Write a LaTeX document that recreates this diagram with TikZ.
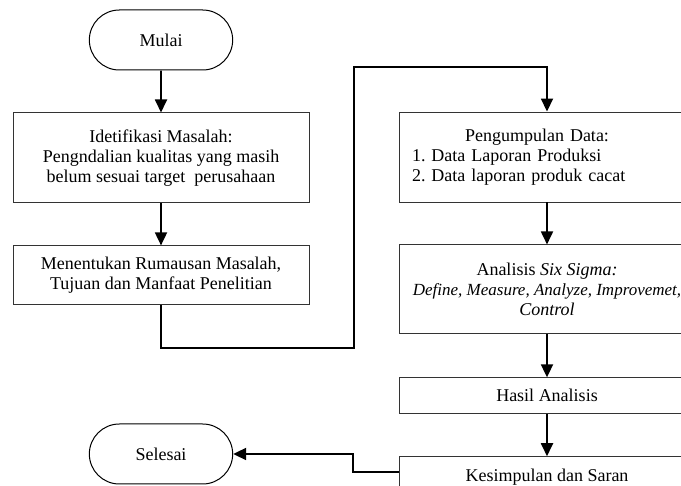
\documentclass[tikz,border=0pt]{standalone}
\usepackage{fontspec}
\setmainfont{Liberation Serif}
\usepackage{tikz}
\usetikzlibrary{positioning}
\usetikzlibrary{shapes.misc}
\usetikzlibrary{arrows.meta}

\tikzset{
  proc/.style={draw=black!80, line width=0.9pt, minimum width=296pt, align=center, inner sep=0pt},
  term/.style={draw, rounded rectangle, line width=1pt, minimum width=150pt, minimum height=60pt},
  flow/.style={line width=1.8pt, -{Triangle[width=12pt,length=13pt]}},
}

\begin{document}
\begin{tikzpicture}[x=1pt, y=-1pt, font=\fontsize{18}{20}\selectfont]
\clip (0,0) rectangle (681,486);

\node (A0) [term] at (161,40) {Mulai};
\node (A1) [proc, minimum height=90pt, below=42pt of A0] {Idetifikasi Masalah:\\ Pengndalian kualitas yang masih\\ belum sesuai target\ \ perusahaan};
\node (A2) [proc, minimum height=59pt, below=42pt of A1] {Menentukan Rumausan Masalah,\\ Tujuan dan Manfaat Penelitian};

\node (B1) [proc, minimum height=90pt, text width=270pt, align=left] at (547,157) {\makebox[250pt]{Pengumpulan Data:}\\ 1.\ Data Laporan Produksi\\ 2.\ Data laporan produk cacat};
\node (B2) [proc, minimum height=89pt, below=42pt of B1] {Analisis \textit{Six Sigma:}\\ \textit{\fontsize{17}{20}\selectfont Define, Measure, Analyze, Improvemet,}\\ \textit{Control}};
\node (B3) [proc, minimum height=36pt, below=43pt of B2] {Hasil Analisis};
\node (B4) [proc, minimum height=40pt, below=42pt of B3] {Kesimpulan dan Saran};

\node (E1) [term] at (161,454) {Selesai};

\coordinate (K1) at (354,348);
\coordinate (K2) at (354,67);
\coordinate (K3) at (353,472);

\draw [flow] (A0) -- (A1);
\draw [flow] (A1) -- (A2);
\draw [flow] (A2) |- (K1) -- (K2) -| (B1);
\draw [flow] (B1) -- (B2);
\draw [flow] (B2) -- (B3);
\draw [flow] (B3) -- (B4);
\draw [flow] (B4.west |- K3) -- (K3) |- (E1);
\end{tikzpicture}
\end{document}
